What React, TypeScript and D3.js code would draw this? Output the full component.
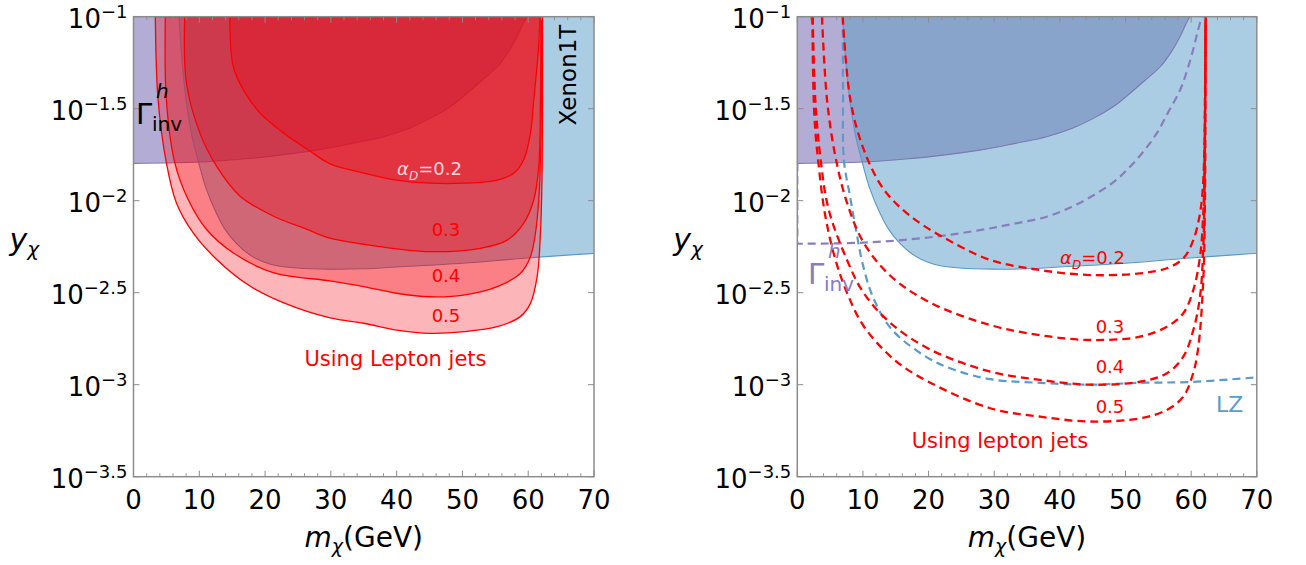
import React from 'react';
import * as d3 from 'd3';

type P = [number, number]; // [m_chi in GeV, log10(y_chi)]

const W = 1306;
const H = 565;
const X_TICKS = [0, 10, 20, 30, 40, 50, 60, 70];
const Y_EXPS = [-1, -1.5, -2, -2.5, -3, -3.5];
const Y_LABELS = ['−1', '−1.5', '−2', '−2.5', '−3', '−3.5'];

// Higgs invisible width bound (shaded, both panels)
const GAMMA_INV: P[] = [
  [0, -1.797], [10, -1.79], [16, -1.775], [20, -1.762], [28, -1.724], [33, -1.69], [38, -1.652],
  [42, -1.605], [45.6, -1.543], [48.5, -1.48], [50.7, -1.416], [53, -1.345], [55.3, -1.272],
  [57, -1.19], [58.3, -1.109], [59.2, -1.04], [59.8, -1.0],
];
// Xenon1T bound (shaded, both panels)
const XENON: P[] = [
  [6.92, -1.0], [7.4, -1.25], [8.0, -1.453], [8.9, -1.65], [9.8, -1.779], [11.0, -1.93], [12.6, -2.068],
  [14.0, -2.16], [15.6, -2.231], [17.5, -2.29], [19.7, -2.332], [22, -2.355], [24.8, -2.366],
  [29.8, -2.372], [35, -2.37], [40, -2.36], [50, -2.34], [59.3, -2.313], [70, -2.286],
];
// Left panel: lepton-jet regions (solid)
const L_02: P[] = [
  [14.64, -1.0], [15.14, -1.268], [16.66, -1.395], [19.2, -1.522], [22.75, -1.63], [26.8, -1.73],
  [29.9, -1.8], [35, -1.85], [40, -1.888], [45, -1.905], [50.2, -1.905], [55.3, -1.888], [57.8, -1.851],
  [59.3, -1.779], [60.34, -1.634], [60.84, -1.453], [61.5, -1.2], [61.8, -1.0],
];
const L_03: P[] = [
  [7.79, -1.0], [8.04, -1.359], [10.07, -1.63], [12.6, -1.811], [16.16, -1.974], [21.23, -2.083],
  [26.3, -2.155], [29.9, -2.204], [37.5, -2.25], [45.1, -2.277], [52.7, -2.259], [56.8, -2.214],
  [59.3, -2.123], [60.84, -1.996], [61.6, -1.815], [61.86, -1.453], [61.95, -1.0],
];
const L_04: P[] = [
  [4.84, -1.0], [4.99, -1.449], [6.27, -1.793], [8.29, -1.992], [11.08, -2.155], [15.14, -2.283],
  [21.23, -2.391], [29.9, -2.436], [35, -2.467], [40, -2.503], [45.1, -2.522], [50.2, -2.513],
  [55.3, -2.467], [58.8, -2.395], [60.34, -2.304], [61.1, -2.177], [61.6, -1.996], [61.9, -1.724], [62.05, -1.0],
];
const L_05: P[] = [
  [3.32, -1.0], [3.73, -1.449], [4.99, -1.793], [6.51, -2.011], [9.05, -2.174], [12.6, -2.318],
  [17.7, -2.464], [22.75, -2.554], [29.9, -2.637], [35, -2.666], [40, -2.703], [45.1, -2.721],
  [50.2, -2.712], [55.3, -2.685], [58.8, -2.63], [60.34, -2.558], [61.36, -2.413], [61.86, -2.177],
  [62.12, -1.815], [62.17, -1.0],
];
// Right panel: lepton-jet projections (dashed)
const R_02: P[] = [
  [6.92, -1.0], [8.07, -1.449], [10.1, -1.72], [13.16, -1.938], [17.2, -2.083], [22.8, -2.21],
  [29.4, -2.322], [37, -2.377], [44.6, -2.404], [52.2, -2.395], [56.3, -2.367], [58.8, -2.313],
  [60.33, -2.214], [61.35, -2.068], [61.85, -1.887], [62.1, -1.45], [62.2, -1.0],
];
const R_03: P[] = [
  [3.76, -1.0], [4.52, -1.449], [5.79, -1.757], [7.57, -2.011], [10.1, -2.228], [14.17, -2.408],
  [20.26, -2.554], [29.4, -2.676], [37, -2.731], [44.6, -2.757], [52.2, -2.739], [56.3, -2.685],
  [58.8, -2.612], [60.33, -2.485], [61.35, -2.304], [61.85, -2.068], [62.1, -1.56], [62.2, -1.0],
];
const R_04: P[] = [
  [2.35, -1.0], [2.74, -1.45], [3.5, -1.76], [4.77, -2.047], [7.57, -2.322], [10.08, -2.5],
  [14.14, -2.663], [20.2, -2.808], [29.4, -2.929], [37, -2.974], [44.6, -3.0], [52.2, -2.984],
  [56.3, -2.938], [58.8, -2.848], [60.33, -2.703], [61.35, -2.522], [61.85, -2.25], [62.1, -1.72], [62.2, -1.0],
];
const R_05: P[] = [
  [2.3, -1.0], [2.6, -1.54], [3.26, -1.81], [4.27, -2.083], [5.79, -2.318], [7.57, -2.5],
  [10.1, -2.681], [14.7, -2.862], [19.76, -2.98], [29.4, -3.128], [37, -3.174], [44.6, -3.2],
  [52.2, -3.183], [56.3, -3.137], [58.8, -3.065], [60.3, -2.938], [61.1, -2.793], [61.85, -2.43],
  [62.1, -2.0], [62.2, -1.0],
];
// Right panel: LZ projection and future Higgs invisible width (dashed)
const LZ: P[] = [
  [6.92, -1.0], [6.97, -1.4], [7.1, -1.78], [8.0, -1.97], [9.0, -2.17], [10.0, -2.35], [11.6, -2.53],
  [14.4, -2.7], [19.7, -2.85], [24, -2.92], [29.4, -2.97], [37, -2.99], [44.6, -3.0], [52, -2.99],
  [60, -2.985], [70, -2.96],
];
const GAMMA_PROJ: P[] = [
  [0, -2.234], [10, -2.228], [20, -2.2], [27.8, -2.16], [33, -2.125], [38, -2.087], [42, -2.03],
  [45.6, -1.96], [48.5, -1.89], [50.7, -1.815], [52.8, -1.73], [54.75, -1.634], [56.5, -1.52],
  [58.3, -1.4], [59.4, -1.29], [60.3, -1.18], [61, -1.08], [61.6, -1.0],
];

const ALPHA_LABELS = ['0.3', '0.4', '0.5'];

const FONT = 'DejaVu Sans';
const Y_TOP = 16.7;
const Y_BOT = 476.7;
const LIGHT_BLUE = '#abcde3';
const PURPLE = '#b3acd4';
const DARK_BLUE = '#88a4ca';
const RED = '#ff0000';

function makeScales(x0: number, x1: number) {
  const x = d3.scaleLinear().domain([0, 70]).range([x0, x1]);
  const y = d3.scaleLog().domain([Math.pow(10, -3.5), 0.1]).range([Y_BOT, Y_TOP]);
  const line = d3
    .line<P>()
    .x((d) => x(d[0]))
    .y((d) => y(Math.pow(10, d[1])))
    .curve(d3.curveCatmullRom.alpha(0.5));
  return { x, y, line };
}

function Background({ id, x, y, line }: any) {
  const gammaPath = (line(GAMMA_INV) as string) + `L${x(0)},${y(0.1)}Z`;
  const xenonPath = (line(XENON) as string) + `L${x(70)},${y(0.1)}Z`;
  return (
    <g>
      <defs>
        <clipPath id={`gclip-${id}`}>
          <path d={gammaPath} />
        </clipPath>
      </defs>
      <path d={xenonPath} fill={LIGHT_BLUE} />
      <path d={gammaPath} fill={PURPLE} />
      <path d={xenonPath} fill={DARK_BLUE} clipPath={`url(#gclip-${id})`} />
      <path d={line(XENON) as string} fill="none" stroke="#5a98c6" strokeWidth={1.1} />
      <path d={line(GAMMA_INV) as string} fill="none" stroke="#7f77b3" strokeWidth={1.1} />
    </g>
  );
}

function Frame({ x0, x1, x, y }: any) {
  const minor = d3.range(2, 70, 2).filter((v) => v % 10 !== 0);
  return (
    <g stroke="#8c8c8c" fill="none">
      <rect x={x0} y={Y_TOP} width={x1 - x0} height={Y_BOT - Y_TOP} strokeWidth={1.5} />
      {X_TICKS.map((v) => (
        <g key={`xm${v}`} strokeWidth={1}>
          <line x1={x(v)} x2={x(v)} y1={Y_BOT} y2={Y_BOT - 6} />
          <line x1={x(v)} x2={x(v)} y1={Y_TOP} y2={Y_TOP + 6} />
        </g>
      ))}
      {minor.map((v) => (
        <g key={`xn${v}`} strokeWidth={0.9}>
          <line x1={x(v)} x2={x(v)} y1={Y_BOT} y2={Y_BOT - 3.5} />
          <line x1={x(v)} x2={x(v)} y1={Y_TOP} y2={Y_TOP + 3.5} />
        </g>
      ))}
      {Y_EXPS.map((e) => (
        <g key={`y${e}`} strokeWidth={1}>
          <line x1={x0} x2={x0 + 6} y1={y(Math.pow(10, e))} y2={y(Math.pow(10, e))} />
          <line x1={x1} x2={x1 - 6} y1={y(Math.pow(10, e))} y2={y(Math.pow(10, e))} />
        </g>
      ))}
    </g>
  );
}

function AxisText({ x0, x1, x, y }: any) {
  return (
    <g fontFamily={FONT} fill="#000">
      {X_TICKS.map((v) => (
        <text key={`xl${v}`} x={x(v)} y={509} textAnchor="middle" fontSize={26}>
          {v}
        </text>
      ))}
      {Y_EXPS.map((e, i) => (
        <text key={`yl${e}`} x={x0 - 6} y={y(Math.pow(10, e)) + 11} textAnchor="end" fontSize={26}>
          10
          <tspan dy={-10} fontSize={18}>
            {Y_LABELS[i]}
          </tspan>
        </text>
      ))}
      <text x={(x0 + x1) / 2} y={547} textAnchor="middle" fontSize={28}>
        <tspan fontStyle="italic">m</tspan>
        <tspan fontStyle="italic" fontSize={19} dy={6}>
          χ
        </tspan>
        <tspan dy={-6}>(GeV)</tspan>
      </text>
      <text x={x0 - 124} y={250} fontSize={30} fontStyle="italic">
        y
        <tspan fontSize={20} dy={6}>
          χ
        </tspan>
      </text>
    </g>
  );
}

function GammaLabel({ gx, gy, color }: any) {
  return (
    <g fontFamily={FONT} fill={color}>
      <text x={gx} y={gy} fontSize={29}>
        Γ
      </text>
      <text x={gx + 20} y={gy - 26} fontSize={20} fontStyle="italic">
        h
      </text>
      <text x={gx + 16} y={gy + 7} fontSize={20}>
        inv
      </text>
    </g>
  );
}

function AlphaLabel({ ax, ay, color }: any) {
  return (
    <text x={ax} y={ay} fontFamily={FONT} fontSize={18} fill={color}>
      <tspan fontStyle="italic">α</tspan>
      <tspan fontStyle="italic" fontSize={12} dy={5}>
        D
      </tspan>
      <tspan dy={-5}>=0.2</tspan>
    </text>
  );
}

function LeftPanel() {
  const x0 = 133.5;
  const x1 = 594;
  const { x, y, line } = makeScales(x0, x1);
  const regions = [L_05, L_04, L_03, L_02];
  return (
    <g>
      <defs>
        <clipPath id="plotL">
          <rect x={x0} y={Y_TOP} width={x1 - x0} height={Y_BOT - Y_TOP} />
        </clipPath>
      </defs>
      <g clipPath="url(#plotL)">
        <Background id="L" x={x} y={y} line={line} />
        {regions.map((r, i) => (
          <path
            key={i}
            d={(line(r) as string) + 'Z'}
            fill="rgb(245,0,10)"
            fillOpacity={0.29}
            stroke={RED}
            strokeWidth={1.3}
          />
        ))}
      </g>
      <Frame x0={x0} x1={x1} x={x} y={y} />
      <AxisText x0={x0} x1={x1} x={x} y={y} />
      <GammaLabel gx={136} gy={124} color="#000" />
      <text
        transform={`translate(576,75) rotate(-90)`}
        textAnchor="middle"
        fontFamily={FONT}
        fontSize={23}
        fill="#000"
      >
        Xenon1T
      </text>
      <AlphaLabel ax={397} ay={175} color="#fbd4d8" />
      {ALPHA_LABELS.map((t, i) => (
        <text key={t} x={446} y={[236, 282, 322][i]} textAnchor="middle" fontFamily={FONT} fontSize={18} fill={RED}>
          {t}
        </text>
      ))}
      <text x={395.5} y={366} textAnchor="middle" fontFamily={FONT} fontSize={21} fill={RED}>
        Using Lepton jets
      </text>
    </g>
  );
}

function RightPanel() {
  const x0 = 797.3;
  const x1 = 1256.8;
  const { x, y, line } = makeScales(x0, x1);
  const curves = [R_02, R_03, R_04, R_05];
  const gammaProj = `M${x(0)},${y(Math.pow(10, -1.797))}L` + (line(GAMMA_PROJ) as string).slice(1);
  return (
    <g>
      <defs>
        <clipPath id="plotR">
          <rect x={x0} y={Y_TOP} width={x1 - x0} height={Y_BOT - Y_TOP} />
        </clipPath>
      </defs>
      <g clipPath="url(#plotR)">
        <Background id="R" x={x} y={y} line={line} />
        <path d={gammaProj} fill="none" stroke="#8a7cbd" strokeWidth={2.2} strokeDasharray="8,5" />
        <path d={line(LZ) as string} fill="none" stroke="#5b9bc9" strokeWidth={2.2} strokeDasharray="8,5" />
        {curves.map((c, i) => (
          <path key={i} d={line(c) as string} fill="none" stroke={RED} strokeWidth={2.3} strokeDasharray="8,5" />
        ))}
      </g>
      <Frame x0={x0} x1={x1} x={x} y={y} />
      <AxisText x0={x0} x1={x1} x={x} y={y} />
      <GammaLabel gx={808} gy={284} color="#8a7cbd" />
      <AlphaLabel ax={1060} ay={264} color={RED} />
      {ALPHA_LABELS.map((t, i) => (
        <text key={t} x={1110} y={[333, 373, 413][i]} textAnchor="middle" fontFamily={FONT} fontSize={18} fill={RED}>
          {t}
        </text>
      ))}
      <text x={1000} y={448} textAnchor="middle" fontFamily={FONT} fontSize={21} fill={RED}>
        Using lepton jets
      </text>
      <text x={1216} y={412} fontFamily={FONT} fontSize={22} fill="#5b9bc9">
        LZ
      </text>
    </g>
  );
}

export default function App() {
  return (
    <svg
      width={W}
      height={H}
      viewBox={`0 0 ${W} ${H}`}
      style={{ position: 'absolute', left: 0, top: 0, background: '#fff' }}
    >
      <rect x={0} y={0} width={W} height={H} fill="#fff" />
      <LeftPanel />
      <RightPanel />
    </svg>
  );
}
